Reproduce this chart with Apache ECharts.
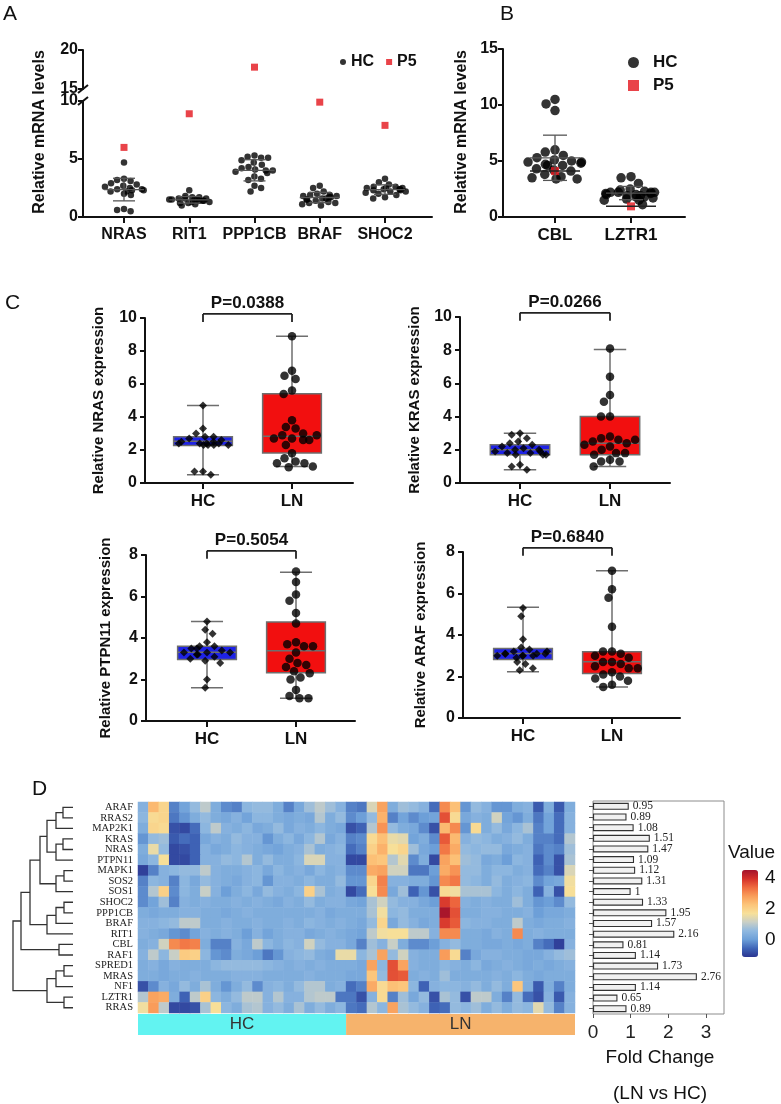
<!DOCTYPE html>
<html>
<head>
<meta charset="utf-8">
<script src="https://cdn.jsdelivr.net/npm/echarts@6.0.0/dist/echarts.min.js"></script>
<style>html,body{margin:0;padding:0;background:#fff}#main{width:781px;height:1104px}</style>
</head>
<body>
<div id="main"></div>
<script>
// ---- panel A : HC dots + P5 squares ----
var genesA = ['NRAS', 'RIT1', 'PPP1CB', 'BRAF', 'SHOC2'];
var hcA = [
  [4.7, 3.3, 3.2, 3.1, 2.9, 2.8, 2.7, 2.6, 2.5, 2.4, 2.4, 2.3, 2.3, 2.2, 2.2, 2.0, 1.9, 0.7, 0.6, 0.5],
  [2.3, 1.8, 1.7, 1.7, 1.6, 1.6, 1.5, 1.5, 1.5, 1.4, 1.4, 1.4, 1.3, 1.3, 1.2, 1.2, 1.1, 1.0, 1.5, 1.6],
  [5.3, 5.2, 5.1, 5.1, 4.9, 4.7, 4.5, 4.3, 4.2, 4.1, 4.0, 4.0, 3.9, 3.8, 3.5, 3.3, 3.2, 2.7, 2.5, 2.2],
  [2.7, 2.5, 2.2, 2.0, 1.9, 1.9, 1.8, 1.8, 1.7, 1.7, 1.6, 1.6, 1.5, 1.5, 1.4, 1.3, 1.2, 1.2, 1.1, 1.0],
  [3.3, 3.0, 2.8, 2.6, 2.6, 2.5, 2.5, 2.4, 2.4, 2.4, 2.3, 2.3, 2.2, 2.2, 2.1, 2.0, 1.9, 1.7, 1.6, 2.5]
];
var p5A = [6.0, 8.9, 17.8, 9.9, 7.9];

// ---- panel B ----
var genesB = ['CBL', 'LZTR1'];
var hcB = [
  [10.5, 10.1, 9.5, 6.0, 5.8, 5.5, 5.3, 5.1, 5.0, 4.9, 4.9, 4.8, 4.7, 4.6, 4.6, 4.3, 4.2, 4.1, 3.8, 3.6, 3.5, 3.4, 3.4],
  [3.6, 3.5, 3.0, 2.5, 2.4, 2.3, 2.2, 2.2, 2.2, 2.2, 2.1, 2.1, 2.0, 2.0, 1.9, 1.9, 1.8, 1.8, 1.7, 1.6, 1.5, 1.5, 1.1]
];
var p5B = [4.1, 0.95];

// ---- panel C : box plots (box = min, Q1, median, Q3, max) ----
var groupsC = ['HC', 'LN'];
var nrasHC = [4.7, 3.3, 3.0, 2.8, 2.8, 2.7, 2.6, 2.5, 2.5, 2.4, 2.4, 2.4, 2.3, 2.3, 2.3, 2.3, 2.4, 0.7, 0.7, 0.5];
var nrasLN = [8.9, 6.8, 6.5, 6.3, 5.6, 5.4, 3.8, 3.4, 3.3, 3.0, 2.9, 2.7, 2.7, 2.6, 2.6, 2.3, 1.8, 1.5, 1.3, 1.2, 1.2, 1.0, 0.95, 2.9];
var nrasBox = [[0.5, 2.27, 2.53, 2.81, 4.69], [1.0, 1.82, 2.83, 5.41, 8.89]];
var krasHC = [3.0, 2.9, 2.7, 2.5, 2.4, 2.3, 2.2, 2.1, 2.0, 2.0, 1.9, 1.9, 1.8, 1.8, 1.7, 1.7, 1.7, 1.1, 1.0, 0.8];
var krasLN = [8.1, 6.4, 5.3, 4.9, 4.0, 4.0, 2.8, 2.7, 2.6, 2.5, 2.4, 2.3, 2.2, 2.0, 1.8, 1.8, 1.7, 1.4, 1.3, 1.3, 1.0, 2.6];
var krasBox = [[0.8, 1.7, 2.0, 2.3, 3.0], [1.0, 1.7, 2.4, 4.0, 8.04]];
var ptpnHC = [4.8, 4.4, 4.2, 3.8, 3.6, 3.6, 3.5, 3.4, 3.3, 3.3, 3.3, 3.2, 3.2, 3.1, 3.0, 2.9, 2.8, 2.0, 1.6, 3.5];
var ptpnLN = [7.2, 6.7, 6.1, 5.8, 5.2, 4.7, 3.8, 3.7, 3.6, 3.6, 3.3, 3.0, 2.8, 2.7, 2.6, 2.4, 2.3, 2.1, 2.0, 1.5, 1.2, 1.1, 1.1];
var ptpnBox = [[1.6, 2.96, 3.31, 3.6, 4.8], [1.1, 2.32, 3.39, 4.77, 7.17]];
var arafHC = [5.3, 4.9, 3.8, 3.4, 3.3, 3.2, 3.1, 3.1, 3.1, 3.0, 3.0, 3.0, 3.0, 2.9, 2.7, 2.6, 2.4, 2.3, 3.2, 3.1];
var arafLN = [7.1, 6.2, 5.8, 4.4, 3.2, 3.2, 3.1, 3.0, 2.9, 2.7, 2.7, 2.6, 2.5, 2.4, 2.4, 2.2, 2.1, 2.0, 1.9, 1.8, 1.6, 1.5];
var arafBox = [[2.23, 2.82, 3.11, 3.35, 5.34], [1.5, 2.15, 2.71, 3.19, 7.1]];
var pValues = ['P=0.0388', 'P=0.0266', 'P=0.5054', 'P=0.6840'];

// ---- panel D ----
var genesD = ['ARAF', 'RRAS2', 'MAP2K1', 'KRAS', 'NRAS', 'PTPN11', 'MAPK1', 'SOS2', 'SOS1', 'SHOC2',
  'PPP1CB', 'BRAF', 'RIT1', 'CBL', 'RAF1', 'SPRED1', 'MRAS', 'NF1', 'LZTR1', 'RRAS'];
var groupNames = ['HC', 'LN'];
var groupSizes = [20, 22];
var heatHC = [
  [0.4, 2.4, 1.9, -0.3, 0.1, 0.6, 1.0, 0.3, -0.2, -0.3, 0.5, 0.6, 0.6, 0.3, -0.3, 0.2, 0.7, 1.0, 0.7, 0.4],
  [0.5, 1.8, 1.9, -0.4, -0.1, 0.3, 0.6, 0.3, 0.2, 0.4, 0.1, 0.5, 0.5, 0.3, 0.2, 0.3, 0.2, 0.9, 0.3, 0.6],
  [0.3, 1.9, 1.8, -0.8, -0.9, -0.5, 0.5, 1.0, 0.4, 0.3, 0.5, 0.2, 0.3, 0.6, 0.2, 0.4, 0.3, 0.5, 0.3, 0.2],
  [-0.1, 0.6, 0.7, -0.7, -0.5, -0.6, 0.2, 0.4, 0.3, 0.6, 0.4, 0.4, -0.1, 0.3, 0.5, 0.2, 0.5, 0.9, 0.2, 0.4],
  [0.3, 1.5, 0.6, -0.9, -0.8, -0.6, 0.4, 0.2, 0.3, 0.5, 0.4, 0.3, 0.2, 0.1, 0.3, 0.4, 0.8, 0.3, 0.4, 0.5],
  [0.2, 0.5, 1.7, -0.9, -0.9, -0.6, 0.4, 0.4, 0.6, 0.5, 0.9, 0.3, 0.6, 0.3, 0.3, 0.5, 1.3, 1.3, 0.4, 0.4],
  [-1.0, -0.3, 0.4, 0.5, 0.6, 0.6, 1.0, 0.4, 0.3, 0.3, 0.4, 0.5, 0.2, 0.5, 0.3, 0.4, 0.2, 0.5, 0.3, 0.4],
  [-0.3, 0.5, 0.4, -0.3, 0.5, 0.2, 0.6, 0.4, 0.3, 0.2, 0.4, 0.5, -0.1, 0.4, 0.4, 0.3, 0.5, 0.3, 0.3, 0.6],
  [-0.2, 0.9, 2.0, -0.2, 0.5, 0.3, 1.1, 0.4, 0.0, 0.3, 0.5, 0.2, 0.6, 0.4, 0.3, 0.5, 2.0, 0.8, 0.3, 0.4],
  [-0.2, 0.1, 0.7, -0.3, 0.4, 0.3, 0.4, 0.3, 0.3, 0.4, 0.3, 0.4, 0.3, 0.2, 0.4, 0.3, 0.6, 0.3, 0.4, 0.4],
  [0.3, 0.2, 0.3, 0.3, 0.4, 0.4, 0.3, 0.3, 0.2, 0.3, 0.4, 0.3, 0.3, 0.3, 0.3, 0.3, 0.3, 0.4, 0.2, 0.3],
  [0.4, 0.4, 0.5, 0.6, 1.0, 1.0, 0.3, 0.3, 0.4, 0.3, 0.3, 0.4, 0.3, 0.3, 0.4, 0.3, 0.5, 0.4, 0.3, 0.4],
  [0.4, 0.3, 0.2, -0.1, -0.2, 0.1, 0.4, 0.3, 0.4, 0.3, 0.0, 0.4, 0.1, 0.3, 0.4, 0.4, 0.2, 0.3, 0.4, 0.3],
  [0.3, 0.4, 1.2, 3.0, 3.2, 3.1, 0.3, -0.3, -0.3, 0.4, 0.2, 1.0, 0.5, 0.3, 0.5, 0.4, 1.2, 0.6, 0.4, 0.4],
  [0.4, 1.0, 0.5, 1.1, 2.1, 2.0, 0.5, -0.1, -0.2, 0.3, 0.2, 0.0, -0.4, -0.1, 0.4, 0.5, 0.6, 0.3, 0.2, 1.5],
  [0.3, 0.4, 0.2, 0.4, 0.3, 0.3, 0.3, 0.5, 0.6, 0.6, 0.6, 0.6, 0.5, 0.4, 0.3, 0.4, 0.3, 0.4, 0.3, 0.3],
  [0.3, 0.3, 0.2, 0.3, 0.3, 0.4, 0.3, 0.3, 0.3, 0.4, 0.4, 0.4, 0.3, 0.3, 0.3, 0.3, 0.4, 0.3, 0.3, 0.3],
  [-0.8, -0.2, 0.4, 0.2, 0.6, 0.3, 0.8, 0.3, -0.1, 0.3, 0.6, -0.2, 0.4, 0.5, 0.3, 0.6, 0.9, 0.9, 0.3, 0.4],
  [0.9, 2.7, 2.6, 0.3, -0.6, 1.0, 2.0, 0.5, 0.3, 0.6, 1.0, 1.0, 0.4, 0.9, 0.4, 0.4, 0.9, 1.0, 1.0, -0.4],
  [1.6, 2.8, 1.0, -0.9, -0.9, -0.8, 0.8, 1.7, 0.5, 0.3, 0.8, 0.9, 0.4, 0.6, 0.3, 0.8, 0.3, 0.6, 0.3, 0.5]
];
var heatLN = [
  [-0.3, -0.4, 1.3, 2.7, 0.3, 0.7, 0.6, 0.4, -0.5, 3.0, 2.3, -0.1, 0.6, 0.4, -0.1, -0.1, 0.3, 0.4, -0.7, 0.3, -0.7, 0.3],
  [-0.2, 0.0, 0.6, 2.5, -0.3, 0.1, -0.2, 0.0, 0.1, 3.6, 1.8, 0.2, 0.4, 0.3, 1.2, 0.1, -0.1, 0.3, -0.4, 0.1, -0.5, 0.4],
  [-0.8, -0.6, 0.9, 2.9, 0.6, 0.3, 0.2, -0.2, -0.8, 2.4, 3.0, -0.1, 1.8, 0.3, 0.6, 0.2, 0.5, 0.8, -0.3, 0.1, -0.5, 0.4],
  [-0.3, -0.2, 1.8, 2.3, 1.5, 1.4, 0.1, 0.3, -0.2, 3.5, 2.4, 0.4, 0.6, 0.5, 0.3, 0.4, 0.6, 0.3, -0.3, -0.3, -0.5, 0.9],
  [-0.5, -0.3, 2.0, 2.5, 1.7, 1.9, 0.7, 0.2, 0.0, 3.2, 2.6, 0.6, 0.5, 0.6, 0.6, 0.2, 0.3, 0.4, -0.4, -0.2, -0.3, 0.7],
  [-0.9, -0.9, 2.3, 2.2, 0.9, 1.4, -0.2, 0.3, -0.9, 2.7, 2.3, 0.7, 0.6, 0.2, 0.3, 0.0, 0.5, 0.4, -0.6, -0.2, -0.8, 0.8],
  [-0.2, -0.2, 2.6, 2.7, 1.2, 1.2, -0.4, -0.4, 0.0, 2.6, 2.9, 0.6, 0.6, 0.3, 0.5, 0.5, 0.3, 0.4, -0.5, -0.3, -0.8, 1.3],
  [-0.1, -0.1, 1.9, 3.1, 0.4, 0.4, 0.3, 0.3, -0.1, 3.0, 3.2, 0.6, 0.5, 0.3, 0.6, 0.3, 0.4, 0.5, -0.2, 0.1, 0.2, 1.6],
  [-0.9, -0.5, 1.7, 3.0, 0.2, 0.7, -0.6, -0.1, -0.8, 1.8, 1.6, 0.8, 0.8, 0.8, 0.5, 0.3, 0.5, 0.3, -0.6, 0.4, -0.8, 1.7],
  [0.2, 0.1, 0.8, 1.2, 0.6, 0.4, 0.4, 0.2, 0.0, 3.8, 3.4, 0.4, 0.3, 0.4, 0.3, 0.3, 0.7, 0.3, -0.1, 0.0, -0.2, 0.6],
  [0.3, 0.3, 0.8, 1.6, 0.5, 0.6, 0.3, 0.3, 0.3, 4.4, 3.6, 0.3, 0.3, 0.4, 0.4, 0.3, 0.3, 0.4, 0.0, 0.2, 0.2, 0.3],
  [0.3, 0.2, 0.6, 1.9, 0.2, 0.6, 0.4, 0.2, 0.3, 3.8, 3.5, 0.5, 0.4, 0.4, 0.3, 0.3, 1.0, 0.3, 0.2, 0.3, 0.3, 0.4],
  [0.2, 0.1, 1.0, 1.6, 1.7, 1.7, 1.0, 1.0, 0.4, 3.0, 3.0, 0.3, 0.3, 0.2, 0.4, 0.3, 3.0, 0.3, 0.4, 0.3, 0.3, 0.3],
  [0.2, -0.3, 0.7, 0.4, 1.1, 0.3, -0.2, -0.2, 0.0, 0.4, 0.6, 0.3, 0.3, 0.2, 0.2, 0.3, 0.2, 0.3, -0.3, -0.5, -1.0, 0.4],
  [1.5, 0.5, 0.8, 2.7, 0.6, 1.2, 0.4, 0.3, 0.3, 2.8, 1.8, -0.3, 0.2, 0.4, 0.4, 0.3, 0.3, 0.2, 0.2, 0.4, 0.6, 0.7],
  [0.3, 0.2, 2.7, 0.5, 3.6, 2.7, 0.4, 0.3, 0.3, 0.5, 0.4, 0.3, 0.5, 0.2, 0.3, 0.4, 0.3, 0.2, 0.3, 0.2, 0.3, 0.4],
  [0.2, 0.2, 2.2, 0.6, 3.6, 3.5, 0.3, 0.4, 0.3, 0.7, 0.3, 0.3, 0.3, 0.3, 0.4, 0.3, 0.5, 0.3, 0.2, 0.3, 0.3, 0.3],
  [-0.5, -0.3, 2.6, 1.8, 2.3, 2.2, 0.5, -0.6, 0.4, 0.5, 0.5, 0.4, 0.6, 0.3, 0.6, 0.3, 2.2, 0.3, -0.7, 0.3, -0.3, 0.3],
  [-0.4, -0.8, 0.4, 1.8, -0.3, 0.7, 0.2, 0.6, -0.8, 0.8, 0.6, -0.8, 1.0, 1.0, 0.3, -0.3, 0.6, -0.5, -0.8, 0.4, -0.7, 0.4],
  [-0.4, -0.5, 0.9, 0.5, 2.7, 0.8, 0.6, 0.4, -0.6, -0.5, 0.6, 0.5, 0.7, 0.3, 0.6, 0.3, 0.6, 0.5, 1.4, 0.6, -0.3, 0.4]
];
var foldChange = [0.95, 0.89, 1.08, 1.51, 1.47, 1.09, 1.12, 1.31, 1, 1.33, 1.95, 1.57, 2.16, 0.81, 1.14, 1.73, 2.76, 1.14, 0.65, 0.89];
var colorTicks = [0, 2, 4];
var foldTicks = [0, 1, 2, 3];
// dendrogram merges: [node a, node b, height]; leaves are 0-19, merge k is node 20+k
var merges = [
  [0, 1, 1.0], [20, 2, 1.7], [3, 4, 1.0], [22, 5, 1.7], [21, 23, 2.6],
  [6, 7, 0.9], [25, 8, 1.7], [24, 26, 3.3], [9, 10, 0.9], [28, 11, 1.7],
  [29, 12, 2.6], [27, 30, 4.3], [13, 14, 1.4], [31, 32, 5.2], [15, 16, 0.9],
  [34, 17, 1.7], [18, 19, 0.9], [35, 36, 2.6], [33, 37, 6.0]
];

var FONT = '"Liberation Sans", Arial, sans-serif';
var SERIF = '"Liberation Serif", "Times New Roman", serif';
var INK = '#111';

var chart = echarts.init(document.getElementById('main'));
var grids = [], xAxes = [], yAxes = [], series = [], graphics = [];

function addGrid(g) {
  g.outerBoundsMode = 'none';
  grids.push(g);
  return grids.length - 1;
}

// axis frame: the long black axis lines with y tick labels
function frame(left, right, top, bottom, ymin, ymax, step, showX, margin) {
  var gi = addGrid({left: left, top: top, width: right - left, height: bottom - top});
  xAxes.push({gridIndex: gi, type: 'value', min: 0, max: 1,
    axisLine: {show: showX, lineStyle: {color: INK, width: 2}},
    axisTick: {show: false}, axisLabel: {show: false}, splitLine: {show: false}});
  yAxes.push({gridIndex: gi, type: 'value', min: ymin, max: ymax, interval: step,
    axisLine: {show: true, lineStyle: {color: INK, width: 2}},
    axisTick: {show: true, length: 5, lineStyle: {color: INK, width: 2}},
    axisLabel: {fontFamily: FONT, fontWeight: 'bold', fontSize: 16, color: INK, margin: margin || 5},
    splitLine: {show: false}});
}

// data grid with a category x axis whose band centres sit on c0..c1
function dataGrid(c0, c1, n, top, bottom, ymin, ymax, cats, jitter, showLabels, fs, margin) {
  var d = (c1 - c0) / (n - 1);
  var gi = addGrid({left: c0 - d / 2, top: top, width: d * n, height: bottom - top});
  xAxes.push({gridIndex: gi, type: 'category', data: cats,
    jitter: jitter, jitterOverlap: false, jitterMargin: 0.5,
    axisLine: {show: false},
    axisTick: {show: showLabels, alignWithLabel: true, length: 6, lineStyle: {color: INK, width: 2}},
    axisLabel: {show: showLabels, interval: 0, fontFamily: FONT, fontWeight: 'bold', fontSize: fs || 16, color: INK, margin: margin || 10},
    splitLine: {show: false}});
  yAxes.push({gridIndex: gi, type: 'value', min: ymin, max: ymax, show: false});
  return gi;
}

function points(groups) {
  var out = [];
  groups.forEach(function (vals, i) { vals.forEach(function (v) { out.push([i, v]); }); });
  return out;
}

function meanSd(vals) {
  var m = vals.reduce(function (a, b) { return a + b; }, 0) / vals.length;
  var s = Math.sqrt(vals.reduce(function (a, b) { return a + (b - m) * (b - m); }, 0) / (vals.length - 1));
  return [m, s];
}

function errorBars(gi, groups, halfMean, halfCap) {
  series.push({type: 'custom', xAxisIndex: gi, yAxisIndex: gi, z: 5, silent: true, clip: false,
    data: groups.map(function (vals, i) { var ms = meanSd(vals); return [i, ms[0], ms[1]]; }),
    renderItem: function (params, api) {
      var i = api.value(0), m = api.value(1), s = api.value(2);
      var c = api.coord([i, m]), t = api.coord([i, m + s]), b = api.coord([i, m - s]);
      var st = {stroke: '#555', lineWidth: 1.3, fill: null};
      return {type: 'group', children: [
        {type: 'line', shape: {x1: c[0], y1: t[1], x2: c[0], y2: b[1]}, style: st},
        {type: 'line', shape: {x1: c[0] - halfMean, y1: c[1], x2: c[0] + halfMean, y2: c[1]}, style: st},
        {type: 'line', shape: {x1: c[0] - halfCap, y1: t[1], x2: c[0] + halfCap, y2: t[1]}, style: st},
        {type: 'line', shape: {x1: c[0] - halfCap, y1: b[1], x2: c[0] + halfCap, y2: b[1]}, style: st}
      ]};
    }});
}

function yTitle(text, x, y, size) {
  graphics.push({type: 'text', x: x, y: y, rotation: Math.PI / 2,
    style: {text: text, font: 'bold ' + size + 'px ' + FONT, fill: INK, textAlign: 'center', textVerticalAlign: 'middle'}});
}

// ================= panel A =================
frame(83, 432, 101, 217, 0, 10, 5, true);
frame(83, 432, 50, 89, 15, 20, 5, false);
var gA = dataGrid(124, 385, 5, 101, 217, 0, 10, genesA, 42, true, 16, 10);
var gAp = dataGrid(124, 385, 5, 101, 217, 0, 10, genesA, 0, false);
var gAu = dataGrid(124, 385, 5, 50, 89, 15, 20, genesA, 0, false);
series.push({type: 'scatter', name: 'HC', xAxisIndex: gA, yAxisIndex: gA, symbol: 'circle', symbolSize: 6.5,
  itemStyle: {color: '#000'}, silent: true, z: 3, data: points(hcA)});
series.push({type: 'scatter', name: 'P5', xAxisIndex: gAp, yAxisIndex: gAp, symbol: 'rect', symbolSize: 7,
  itemStyle: {color: '#e3141b'}, silent: true, z: 3,
  data: p5A.map(function (v, i) { return [i, v]; }).filter(function (d) { return d[1] <= 10; })});
series.push({type: 'scatter', name: 'P5', xAxisIndex: gAu, yAxisIndex: gAu, symbol: 'rect', symbolSize: 7,
  itemStyle: {color: '#e3141b'}, silent: true, z: 3,
  data: p5A.map(function (v, i) { return [i, v]; }).filter(function (d) { return d[1] > 10; })});
errorBars(gA, hcA, 20, 11);
yTitle('Relative mRNA levels', 40, 132, 16);
graphics.push({type: 'line', shape: {x1: 78, y1: 93, x2: 88, y2: 85}, style: {stroke: INK, lineWidth: 2}});
graphics.push({type: 'line', shape: {x1: 78, y1: 105, x2: 88, y2: 97}, style: {stroke: INK, lineWidth: 2}});

// ================= panel B =================
frame(503, 685, 49, 217, 0, 15, 5, true);
var gB = dataGrid(555, 631, 2, 49, 217, 0, 15, genesB, 56, true, 17, 10);
var gBp = dataGrid(555, 631, 2, 49, 217, 0, 15, genesB, 0, false);
series.push({type: 'scatter', name: 'HC', xAxisIndex: gB, yAxisIndex: gB, symbol: 'circle', symbolSize: 9.5,
  itemStyle: {color: '#000'}, silent: true, z: 3, data: points(hcB)});
series.push({type: 'scatter', name: 'P5', xAxisIndex: gBp, yAxisIndex: gBp, symbol: 'rect', symbolSize: 8,
  itemStyle: {color: '#e3141b'}, silent: true, z: 4, data: p5B.map(function (v, i) { return [i, v]; })});
errorBars(gB, hcB, 25, 12);
series.push({type: 'custom', xAxisIndex: gBp, yAxisIndex: gBp, z: 5, silent: true,
  data: p5B.map(function (v, i) { return [i, v]; }),
  renderItem: function (params, api) {
    var c = api.coord([api.value(0), api.value(1)]);
    return {type: 'line', shape: {x1: c[0] - 25, y1: c[1], x2: c[0] + 25, y2: c[1]}, style: {stroke: '#222', lineWidth: 1.5, fill: null}};
  }});
yTitle('Relative mRNA levels', 462, 132, 16);

// ================= panel C =================
var panelsC = [
  {hc: nrasHC, ln: nrasLN, box: nrasBox, p: pValues[0], title: 'Relative NRAS expression',
    axisL: 145, axisR: 353, top: 318, bottom: 483, ymax: 10, c: [203, 292], bracket: 10.25, tx: 99},
  {hc: krasHC, ln: krasLN, box: krasBox, p: pValues[1], title: 'Relative KRAS expression',
    axisL: 460, axisR: 670, top: 317, bottom: 483, ymax: 10, c: [520, 610], bracket: 10.25, tx: 415},
  {hc: ptpnHC, ln: ptpnLN, box: ptpnBox, p: pValues[2], title: 'Relative PTPN11 expression',
    axisL: 146, axisR: 355, top: 555, bottom: 721, ymax: 8, c: [207, 296], bracket: 8.2, tx: 106},
  {hc: arafHC, ln: arafLN, box: arafBox, p: pValues[3], title: 'Relative ARAF expression',
    axisL: 463, axisR: 680, top: 552, bottom: 718, ymax: 8, c: [523, 612], bracket: 8.2, tx: 421}
];
var boxColors = ['#1e22e6', '#f20f0f'];

panelsC.forEach(function (pc) {
  frame(pc.axisL, pc.axisR, pc.top, pc.bottom, 0, pc.ymax, 2, true, 8);
  var g = dataGrid(pc.c[0], pc.c[1], 2, pc.top, pc.bottom, 0, pc.ymax, groupsC, 52, true, 17, 10);
  series.push({type: 'custom', xAxisIndex: g, yAxisIndex: g, z: 2, silent: true,
    data: pc.box.map(function (b, i) { return [i].concat(b); }),
    renderItem: function (params, api) {
      var i = api.value(0);
      var pt = function (k) { return api.coord([i, api.value(k)]); };
      var lo = pt(1), q1 = pt(2), md = pt(3), q3 = pt(4), hi = pt(5);
      var band = api.size([1, 0])[0], hw = band * 0.33, cw = band * 0.18, x = lo[0];
      var ln = {stroke: '#6e6e6e', lineWidth: 1.5, fill: null};
      return {type: 'group', children: [
        {type: 'line', shape: {x1: x, y1: hi[1], x2: x, y2: lo[1]}, style: ln},
        {type: 'line', shape: {x1: x - cw, y1: hi[1], x2: x + cw, y2: hi[1]}, style: ln},
        {type: 'line', shape: {x1: x - cw, y1: lo[1], x2: x + cw, y2: lo[1]}, style: ln},
        {type: 'rect', shape: {x: x - hw, y: q3[1], width: 2 * hw, height: q1[1] - q3[1]},
          style: {fill: boxColors[i], stroke: '#6e6e6e', lineWidth: 1.5}},
        {type: 'line', shape: {x1: x - hw, y1: md[1], x2: x + hw, y2: md[1]}, style: ln}
      ]};
    }});
  series.push({type: 'scatter', name: 'C-HC', xAxisIndex: g, yAxisIndex: g, symbol: 'diamond', symbolSize: 8,
    itemStyle: {color: '#000'}, silent: true, z: 3, data: pc.hc.map(function (v) { return [0, v]; })});
  series.push({type: 'scatter', name: 'C-LN', xAxisIndex: g, yAxisIndex: g, symbol: 'circle', symbolSize: 8.5,
    itemStyle: {color: '#000'}, silent: true, z: 3, data: pc.ln.map(function (v) { return [1, v]; })});
  series.push({type: 'custom', xAxisIndex: g, yAxisIndex: g, z: 5, silent: true, clip: false,
    data: [[0, pc.bracket]],
    renderItem: function (params, api) {
      var a = api.coord([0, api.value(1)]), b = api.coord([1, api.value(1)]);
      var st = {stroke: '#222', lineWidth: 1.8, fill: null};
      return {type: 'group', children: [
        {type: 'line', shape: {x1: a[0], y1: a[1] + 8, x2: a[0], y2: a[1]}, style: st},
        {type: 'line', shape: {x1: a[0], y1: a[1], x2: b[0], y2: b[1]}, style: st},
        {type: 'line', shape: {x1: b[0], y1: b[1], x2: b[0], y2: b[1] + 8}, style: st},
        {type: 'text', x: (a[0] + b[0]) / 2, y: a[1] - 2,
          style: {text: pc.p, font: 'bold 17px ' + FONT, fill: INK, textAlign: 'center', textVerticalAlign: 'bottom'}}
      ]};
    }});
  yTitle(pc.title, pc.tx, (pc.top + pc.bottom) / 2, 15);
});

// ================= panel D =================
// dendrogram
var gDen = addGrid({left: 13, top: 802, width: 60, height: 211});
xAxes.push({gridIndex: gDen, type: 'value', min: 0, max: 6, inverse: true, show: false});
yAxes.push({gridIndex: gDen, type: 'value', min: -0.5, max: genesD.length - 0.5, inverse: true, show: false});
var nodeY = genesD.map(function (g, i) { return i; });
var nodeH = genesD.map(function () { return 0; });
var denLines = merges.map(function (m) {
  var ya = nodeY[m[0]], yb = nodeY[m[1]];
  nodeY.push((ya + yb) / 2);
  nodeH.push(m[2]);
  return {coords: [[nodeH[m[0]], ya], [m[2], ya], [m[2], yb], [nodeH[m[1]], yb]]};
});
series.push({type: 'lines', coordinateSystem: 'cartesian2d', xAxisIndex: gDen, yAxisIndex: gDen,
  polyline: true, silent: true, lineStyle: {color: '#333', width: 1.3, opacity: 1}, data: denLines});

// heatmap
var colIds = [];
for (var c = 0; c < groupSizes[0] + groupSizes[1]; c++) colIds.push(String(c + 1));
var gHeat = addGrid({left: 138, top: 802, width: 437, height: 211});
xAxes.push({gridIndex: gHeat, type: 'category', data: colIds, show: false});
yAxes.push({gridIndex: gHeat, type: 'category', data: genesD, inverse: true,
  axisLine: {show: false}, axisTick: {show: false},
  axisLabel: {interval: 0, fontFamily: SERIF, fontSize: 10.5, color: '#222', margin: 5}});
var heatData = [];
genesD.forEach(function (g, r) {
  heatHC[r].concat(heatLN[r]).forEach(function (v, col) { heatData.push([col, r, v]); });
});
var heatIndex = series.length;
series.push({type: 'heatmap', xAxisIndex: gHeat, yAxisIndex: gHeat, data: heatData, silent: true,
  itemStyle: {borderWidth: 0}, emphasis: {disabled: true}});

// group annotation bar
var gAnn = addGrid({left: 138, top: 1014, width: 437, height: 21});
xAxes.push({gridIndex: gAnn, type: 'value', min: 0, max: groupSizes[0] + groupSizes[1], show: false});
yAxes.push({gridIndex: gAnn, type: 'category', data: ['group'], show: false});
var annColors = ['#62f3f1', '#f6b36c'];
groupNames.forEach(function (name, i) {
  series.push({type: 'bar', name: 'group-' + name, xAxisIndex: gAnn, yAxisIndex: gAnn, stack: 'grp',
    barWidth: '100%', silent: true, data: [groupSizes[i]], itemStyle: {color: annColors[i]},
    label: {show: true, position: 'inside', formatter: name, fontFamily: FONT, fontSize: 17, color: '#333'}});
});

// fold change bars
var gFold = addGrid({left: 593, top: 801, width: 131, height: 213, show: true, borderColor: '#8c8c8c', borderWidth: 1});
xAxes.push({gridIndex: gFold, type: 'value', min: 0, max: 3.48,
  axisLine: {show: false},
  axisTick: {show: true, customValues: foldTicks, length: 4, lineStyle: {color: '#555'}},
  axisLabel: {customValues: foldTicks, fontFamily: FONT, fontSize: 19, color: '#222', margin: 9},
  splitLine: {show: false}});
yAxes.push({gridIndex: gFold, type: 'category', data: genesD, inverse: true,
  axisLine: {show: false}, axisLabel: {show: false},
  axisTick: {show: true, alignWithLabel: true, interval: 0, length: 4, lineStyle: {color: '#555'}}});
series.push({type: 'bar', xAxisIndex: gFold, yAxisIndex: gFold, data: foldChange, barWidth: 7, silent: true,
  itemStyle: {color: '#f1f1f1', borderColor: '#333', borderWidth: 1.1},
  label: {show: true, position: 'right', distance: 4, fontFamily: SERIF, fontSize: 11.5, color: '#222'}});

// colour legend tick labels
var gLeg = addGrid({left: 742, top: 870, width: 16, height: 87});
xAxes.push({gridIndex: gLeg, type: 'value', show: false, min: 0, max: 1});
yAxes.push({gridIndex: gLeg, type: 'value', min: -1.13, max: 4.47, position: 'right',
  axisLine: {show: false}, axisTick: {show: false}, splitLine: {show: false},
  axisLabel: {customValues: colorTicks, fontFamily: FONT, fontSize: 19, color: INK, margin: 7}});

// text
var texts = [
  ['A', 3, 4, 21], ['B', 500, 4, 21], ['C', 5, 293, 21], ['D', 32, 779, 21]
];
texts.forEach(function (t) {
  graphics.push({type: 'text', left: t[1], top: t[2], style: {text: t[0], font: t[3] + 'px ' + FONT, fill: INK}});
});
graphics.push({type: 'text', x: 728, y: 853, style: {text: 'Value', font: '19px ' + FONT, fill: INK, textVerticalAlign: 'middle'}});
graphics.push({type: 'text', x: 660, y: 1058, style: {text: 'Fold Change', font: '19px ' + FONT, fill: INK, textAlign: 'center', textVerticalAlign: 'middle'}});
graphics.push({type: 'text', x: 660, y: 1094, style: {text: '(LN vs HC)', font: '19px ' + FONT, fill: INK, textAlign: 'center', textVerticalAlign: 'middle'}});

var option = {
  animation: false,
  backgroundColor: '#fff',
  grid: grids,
  xAxis: xAxes,
  yAxis: yAxes,
  series: series,
  graphic: graphics,
  legend: [
    {left: 335, top: 49, itemWidth: 6, itemHeight: 6, itemGap: 12, selectedMode: false,
      textStyle: {fontFamily: FONT, fontWeight: 'bold', fontSize: 16, color: INK},
      data: [{name: 'HC', icon: 'circle', itemStyle: {color: '#000'}}, {name: 'P5', icon: 'rect', itemStyle: {color: '#e3141b'}}]},
    {left: 623, top: 49, orient: 'vertical', itemWidth: 11, itemHeight: 11, itemGap: 6, selectedMode: false,
      textStyle: {fontFamily: FONT, fontWeight: 'bold', fontSize: 17, color: INK, padding: [0, 0, 0, 9]},
      data: [{name: 'HC', icon: 'circle', itemStyle: {color: '#000'}}, {name: 'P5', icon: 'rect', itemStyle: {color: '#e3141b'}}]}
  ],
  visualMap: {
    type: 'continuous', seriesIndex: heatIndex, min: -1.13, max: 4.47, calculable: false,
    left: 742, top: 870, itemWidth: 16, itemHeight: 87, padding: 0, text: null, hoverLink: false,
    inRange: {color: ['#2b3591', '#3f65b7', '#6c9fd8', '#8fb8e0', '#c9cfc6', '#f7e09a', '#fcc57a', '#f99d5a', '#ef6a3f', '#d42f2a', '#a3122b']}
  }
};
chart.setOption(option);
</script>
</body>
</html>
